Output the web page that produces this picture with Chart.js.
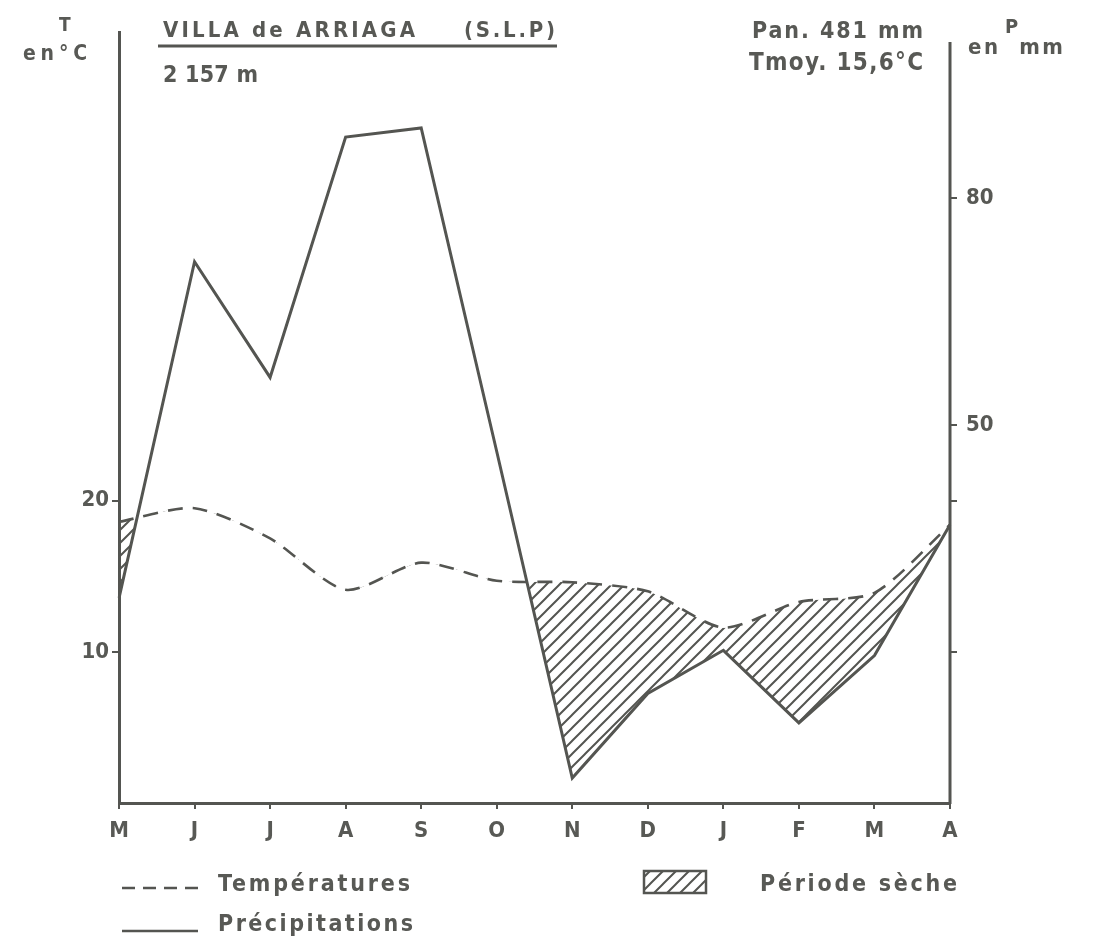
<!DOCTYPE html>
<html>
<head>
<meta charset="utf-8">
<script src="https://cdn.jsdelivr.net/npm/chart.js@4/dist/chart.umd.min.js"></script>
<style>
  html, body { margin: 0; padding: 0; background: #fff; }
  #wrap { position: relative; width: 1094px; height: 947px; overflow: hidden; }
  #c { position: absolute; left: 0; top: 0; }
  .t { position: absolute; font-family: 'DejaVu Sans Condensed', 'DejaVu Sans', sans-serif; font-weight: bold;
       color: #585955; white-space: pre; line-height: 1; }
</style>
</head>
<body>
<div id="wrap">
  <canvas id="c" width="1094" height="947"></canvas>
  <div class="t" data-x="59"  data-cap="17" data-size="19" data-w="12">T</div>
  <div class="t" data-x="23"  data-cap="45" data-size="21" data-w="64">en°C</div>
  <div class="t" data-x="163" data-cap="22" data-size="22" data-w="252">VILLA de ARRIAGA</div>
  <div class="t" data-x="464" data-cap="22" data-size="22" data-w="91">(S.L.P)</div>
  <div class="t" data-x="163" data-cap="66" data-size="23" data-w="95">2 157 m</div>
  <div class="t" data-x="752" data-cap="22" data-size="23" data-w="171">Pan. 481 mm</div>
  <div class="t" data-x="749" data-cap="53" data-size="24" data-w="174">Tmoy. 15,6°C</div>
  <div class="t" data-x="1005" data-cap="18" data-size="20" data-w="12">P</div>
  <div class="t" data-x="968" data-cap="39" data-size="22" data-w="95">en  mm</div>
  <div class="t" data-x="218" data-cap="875" data-size="23" data-w="192">Températures</div>
  <div class="t" data-x="218" data-cap="915" data-size="23" data-w="195">Précipitations</div>
  <div class="t" data-x="760" data-cap="875" data-size="23" data-w="197">Période sèche</div>
</div>
<script>
// Climate diagram, Villa de Arriaga (S.L.P), 2 157 m — months May to April
const months = ['M', 'J', 'J', 'A', 'S', 'O', 'N', 'D', 'J', 'F', 'M', 'A'];
const temperatures = [18.6, 19.5, 17.5, 14.1, 15.9, 14.7, 14.6, 14.0, 11.6, 13.3, 13.9, 18.4];     // °C
const precipitations = [27.1, 71.6, 56.3, 88.1, 89.3, 46.5, 3.3, 14.5, 20.2, 10.6, 19.5, 36.8];    // mm
const tempTicks = [10, 20];
const precipTicks = [20, 40, 50, 80];
const precipLabelled = [50, 80];
const T_MAX = 51;           // top of the temperature axis; precipitation axis is twice that (P = 2T)

const INK = '#545551';
const TEXT = '#585955';
const FONT = "'DejaVu Sans Condensed', 'DejaVu Sans', sans-serif";

// place the lettering: left edge, cap-height top, width stretched with letter spacing
document.querySelectorAll('.t').forEach(el => {
  const size = +el.dataset.size;
  el.style.fontSize = size + 'px';
  el.style.left = el.dataset.x + 'px';
  el.style.top = (+el.dataset.cap - 0.116 * size) + 'px';
  const natural = el.getBoundingClientRect().width;
  const n = el.textContent.length;
  if (n > 1) {
    const ls = (+el.dataset.w - natural) / (n - 1);
    el.style.letterSpacing = ls + 'px';
  }
});

const canvas = document.getElementById('c');
const ctx = canvas.getContext('2d');

// diagonal hatching for the dry period
function makeHatch() {
  const s = 13;
  const tile = document.createElement('canvas');
  tile.width = s; tile.height = s;
  const g = tile.getContext('2d');
  g.strokeStyle = INK;
  g.lineWidth = 2;
  g.beginPath();
  g.moveTo(-2, s + 2); g.lineTo(s + 2, -2);
  g.moveTo(-2, 2); g.lineTo(2, -2);
  g.moveTo(s - 2, s + 2); g.lineTo(s + 2, s - 2);
  g.stroke();
  return ctx.createPattern(tile, 'repeat');
}
const hatch = makeHatch();

// precipitation axis line (starts a little below the temperature axis),
// underline of the station name and the hand-drawn legend samples
const decor = {
  id: 'decor',
  afterDraw(chart) {
    const c = chart.ctx;
    const area = chart.chartArea;
    c.save();
    c.strokeStyle = INK;
    c.lineCap = 'butt';
    c.lineWidth = 3;
    c.beginPath(); c.moveTo(area.right, area.top + 10); c.lineTo(area.right, area.bottom + 1); c.stroke();
    // title underline
    c.beginPath(); c.moveTo(158, 46); c.lineTo(557, 46); c.stroke();
    // dashed sample — temperatures
    c.lineWidth = 2.5;
    c.setLineDash([13, 8]);
    c.beginPath(); c.moveTo(122, 888); c.lineTo(204, 888); c.stroke();
    // solid sample — precipitation
    c.setLineDash([]);
    c.beginPath(); c.moveTo(122, 931); c.lineTo(198, 931); c.stroke();
    // hatched box — dry period
    c.fillStyle = hatch;
    c.fillRect(644, 871, 62, 22);
    c.strokeRect(644, 871, 62, 22);
    c.restore();
  }
};

new Chart(ctx, {
  type: 'line',
  data: {
    labels: months,
    datasets: [
      {
        label: 'Températures',
        data: temperatures,
        yAxisID: 'yT',
        borderColor: INK,
        borderWidth: 2.6,
        borderDash: [15, 10],
        tension: 0.25,
        pointRadius: 0,
        fill: false
      },
      {
        label: 'Précipitations',
        data: precipitations,
        yAxisID: 'yP',
        borderColor: INK,
        borderWidth: 3,
        tension: 0,
        pointRadius: 0,
        borderJoinStyle: 'miter',
        fill: { target: 0, above: 'rgba(0,0,0,0)', below: hatch }
      }
    ]
  },
  options: {
    responsive: false,
    animation: false,
    events: [],
    layout: { padding: { top: 32, left: 0, right: 0, bottom: 0 } },
    plugins: { legend: { display: false }, tooltip: { enabled: false }, title: { display: false } },
    scales: {
      x: {
        type: 'category',
        offset: false,
        grid: { display: true, drawOnChartArea: false, drawTicks: true, tickLength: 6, tickColor: INK, lineWidth: 2 },
        border: { display: true, color: INK, width: 3 },
        ticks: { color: TEXT, font: { family: FONT, size: 22, weight: 'bold' }, padding: 9, autoSkip: false, maxRotation: 0 },
        afterFit(s) { s.height = 144; }
      },
      yT: {
        position: 'left',
        min: 0,
        max: T_MAX,
        afterBuildTicks(s) { s.ticks = tempTicks.map(v => ({ value: v })); },
        grid: { display: true, drawOnChartArea: false, drawTicks: true, tickLength: 7, tickColor: INK, lineWidth: 2 },
        border: { display: true, color: INK, width: 3 },
        ticks: { color: TEXT, font: { family: FONT, size: 22, weight: 'bold' }, padding: 3 },
        afterFit(s) { s.width = 119; }
      },
      yP: {
        position: 'right',
        min: 0,
        max: 2 * T_MAX,
        afterBuildTicks(s) { s.ticks = precipTicks.map(v => ({ value: v })); },
        grid: { display: true, drawOnChartArea: false, drawTicks: true, tickLength: 7, tickColor: INK, lineWidth: 2 },
        border: { display: false },
        ticks: {
          color: TEXT, font: { family: FONT, size: 22, weight: 'bold' }, padding: 9,
          callback: v => precipLabelled.includes(v) ? String(v) : ''
        },
        afterFit(s) { s.width = 144; }
      }
    }
  },
  plugins: [decor]
});
</script>
</body>
</html>
